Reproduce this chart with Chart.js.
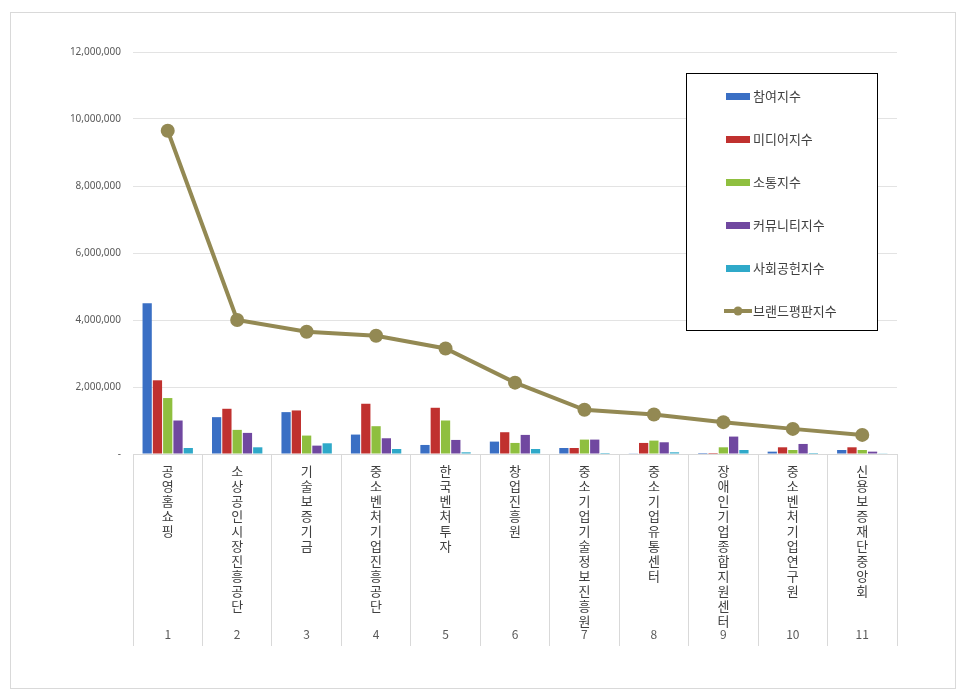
<!DOCTYPE html>
<html>
<head>
<meta charset="utf-8">
<script src="https://cdn.jsdelivr.net/npm/chart.js@4.4.0/dist/chart.umd.min.js"></script>
<style>
html, body { margin: 0; padding: 0; background: #fff; }
#wrap { width: 966px; height: 700px; }
</style>
</head>
<body>
<div id="wrap"><canvas id="myChart" width="966" height="700"></canvas></div>
<script>
var names = ['공영홈쇼핑', '소상공인시장진흥공단', '기술보증기금', '중소벤처기업진흥공단', '한국벤처투자', '창업진흥원',
    '중소기업기술정보진흥원', '중소기업유통센터', '장애인기업종합지원센터', '중소벤처기업연구원', '신용보증재단중앙회']
var ranks = ['1', '2', '3', '4', '5', '6', '7', '8', '9', '10', '11']
var chamyeo = [4500000, 1100000, 1250000, 580000, 270000, 370000, 180000, 20000, 30000, 70000, 120000]
var media = [2200000, 1350000, 1300000, 1500000, 1380000, 650000, 180000, 330000, 30000, 200000, 200000]
var sotong = [1670000, 720000, 550000, 830000, 1000000, 330000, 430000, 400000, 200000, 120000, 120000]
var community = [1000000, 630000, 250000, 470000, 420000, 570000, 430000, 350000, 520000, 300000, 70000]
var social = [180000, 200000, 320000, 150000, 50000, 150000, 30000, 50000, 120000, 30000, 10000]
var brand = [9650000, 4000000, 3650000, 3530000, 3150000, 2130000, 1320000, 1180000, 950000, 750000, 570000]
var yTicks = [0, 2000000, 4000000, 6000000, 8000000, 10000000, 12000000]

var extras = {
    id: 'extras',
    beforeDraw(chart) {
        const c = chart.ctx
        c.save()
        c.fillStyle = '#fff'
        c.fillRect(0, 0, chart.width, chart.height)
        c.strokeStyle = '#d9d9d9'
        c.lineWidth = 1
        c.strokeRect(10.5, 12.5, 945, 676)
        c.restore()
    },
    afterDraw(chart) {
        const c = chart.ctx
        const x = chart.scales.x
        c.save()
        // rank numbers
        c.fillStyle = '#595959'
        c.font = '12px "Noto Sans CJK KR", "Noto Sans", sans-serif'
        c.textAlign = 'center'
        c.textBaseline = 'middle'
        ranks.forEach((r, i) => c.fillText(r, x.getPixelForValue(i), 634))
        // legend box
        c.fillStyle = '#fff'
        c.fillRect(686, 73, 191, 258)
        c.strokeStyle = '#000'
        c.lineWidth = 1
        c.strokeRect(686.5, 73.5, 191, 257)
        c.font = '13px "Noto Sans CJK KR", sans-serif'
        c.textAlign = 'left'
        chart.data.datasets.forEach((ds, i) => {
            const y = 96 + i * 43
            if (ds.type === 'line') {
                c.strokeStyle = ds.borderColor
                c.lineWidth = 4
                c.beginPath(); c.moveTo(724, y); c.lineTo(752, y); c.stroke()
                c.fillStyle = ds.borderColor
                c.beginPath(); c.arc(738, y, 4.5, 0, Math.PI * 2); c.fill()
            } else {
                c.fillStyle = ds.backgroundColor
                c.fillRect(726, y - 3, 24, 7)
            }
            c.fillStyle = '#404040'
            c.fillText(ds.label, 753, y)
        })
        c.restore()
    }
}

var ctx = document.getElementById('myChart').getContext('2d')
var chart = new Chart(ctx, {
    type: 'bar',
    data: {
        labels: names.map(n => n.split('')),
        datasets: [
            { label: '참여지수', data: chamyeo, backgroundColor: '#3a6fc4', order: 2 },
            { label: '미디어지수', data: media, backgroundColor: '#c0312f', order: 2 },
            { label: '소통지수', data: sotong, backgroundColor: '#8fbf3f', order: 2 },
            { label: '커뮤니티지수', data: community, backgroundColor: '#7048a0', order: 2 },
            { label: '사회공헌지수', data: social, backgroundColor: '#2fa9c9', order: 2 },
            {
                label: '브랜드평판지수', data: brand, type: 'line', order: 1,
                borderColor: '#938953', backgroundColor: '#938953', borderWidth: 4,
                pointRadius: 7, pointBackgroundColor: '#938953', pointBorderWidth: 0, tension: 0
            }
        ]
    },
    options: {
        responsive: false,
        animation: false,
        layout: { padding: { top: 52, right: 69, bottom: 54, left: 0 } },
        plugins: { legend: { display: false }, tooltip: { enabled: false } },
        datasets: { bar: { categoryPercentage: 0.74, barPercentage: 0.9 } },
        scales: {
            x: {
                offset: true,
                afterFit: s => { s.height = 192 },
                grid: { offset: true, drawOnChartArea: false, tickLength: 192, color: '#d9d9d9' },
                border: { color: '#d9d9d9' },
                ticks: {
                    maxRotation: 0, autoSkip: false, padding: -182, color: '#404040',
                    font: { size: 13, family: '"Noto Sans CJK KR", sans-serif', lineHeight: 1.15 }
                }
            },
            y: {
                min: 0, max: 12000000,
                afterFit: s => { s.width = 133 },
                afterBuildTicks: s => { s.ticks = yTicks.map(v => ({ value: v })) },
                grid: { color: '#e3e3e3', drawTicks: false },
                border: { display: false },
                ticks: {
                    padding: 12, color: '#595959',
                    font: { size: 10, family: '"Noto Sans", sans-serif' },
                    callback: v => v === 0 ? '-' : v.toLocaleString('en-US')
                }
            }
        }
    },
    plugins: [extras]
})
</script>
</body>
</html>
